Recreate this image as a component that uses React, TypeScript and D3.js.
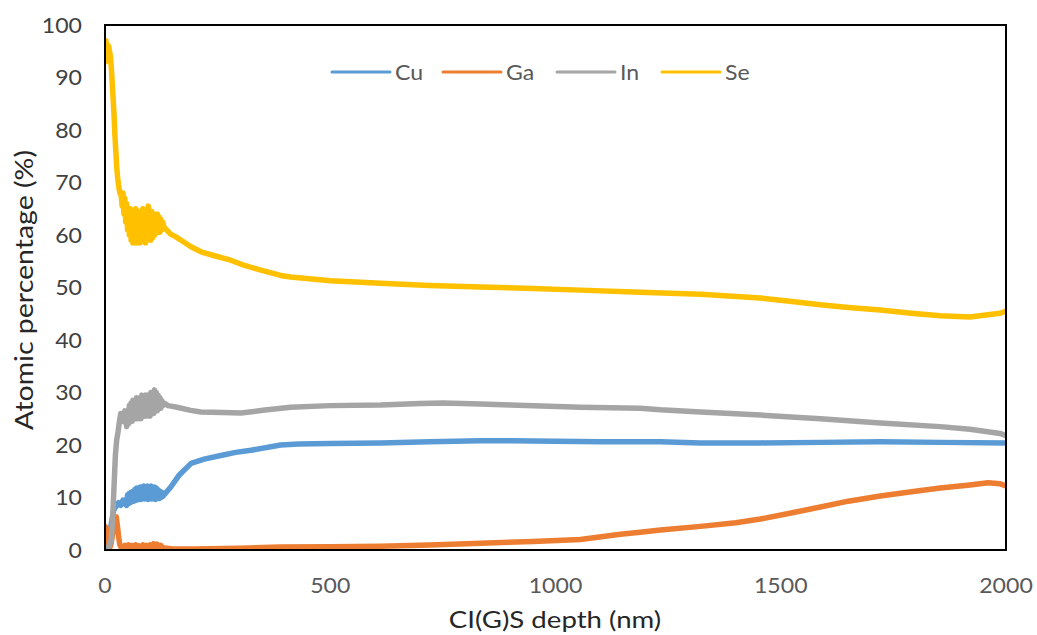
import React from 'react';
import * as d3 from 'd3';

type Pt = [number, number];

const seriesNames = ['Cu', 'Ga', 'In', 'Se'];
const seriesColors = ['#5B9BD5', '#ED7D31', '#A5A5A5', '#FFC000'];
const xTicks = [0, 500, 1000, 1500, 2000];
const yTicks = [0, 10, 20, 30, 40, 50, 60, 70, 80, 90, 100];

const cuData: Pt[] = [
  [0, 0.5], [2, 3], [4, 4], [6, 2.5], [8, 2], [10, 3], [13, 4.5], [16, 6], [19, 7.5], [22, 8], [26, 8.5], [30, 9], [35, 8.5], [40, 9.5], [44, 8.8],
  [48, 8.5], [50, 10.5], [52, 8.8], [54, 10.8], [56, 9], [58, 11], [60, 9.2], [62, 11.2], [64, 9.3], [66, 11.5], [68, 9.5], [70, 11.8], [72, 9.5], [74, 11.5], [76, 9.8], [78, 12], [80, 9.6], [82, 11.8], [84, 9.8], [86, 12.2], [88, 9.7], [90, 12], [92, 9.8], [94, 12.2], [96, 9.6], [98, 12], [100, 9.8], [102, 12.2], [104, 9.7], [106, 11.8], [108, 9.8], [110, 12], [112, 9.6], [114, 11.8], [116, 9.8], [118, 11.5], [120, 9.8], [122, 11.2], [124, 10], [126, 11], [128, 10.2], [131, 10.5],
  [146, 12], [165, 14.3], [191, 16.5], [220, 17.3], [257, 18], [290, 18.6], [324, 19], [390, 20], [430, 20.2], [500, 20.3], [612, 20.4], [720, 20.6], [834, 20.8], [900, 20.8], [1000, 20.7], [1100, 20.6], [1233, 20.6], [1322, 20.4], [1455, 20.4], [1588, 20.5], [1721, 20.6], [1854, 20.5], [2000, 20.4],
];

const gaData: Pt[] = [
  [0, 1], [1, 4.5], [3, 3], [5, 4], [7, 2], [9, 1], [11, 0.5], [13, 1], [16, 2.5], [19, 4], [22, 5.5], [25, 6.3], [27, 5], [29, 3.5], [31, 2], [33, 1], [36, 0.5], [40, 0.3],
  [44, 0.9], [48, 0.2], [52, 1], [56, 0.3], [60, 0.9], [64, 0.2], [68, 1], [72, 0.3], [76, 0.8], [80, 0.2], [84, 1], [88, 0.3], [92, 0.9], [96, 0.2], [100, 1], [104, 0.3], [108, 1.2], [112, 0.3], [116, 1.1], [120, 0.3], [124, 0.9], [128, 0.2], [132, 0.4],
  [150, 0.2], [200, 0.2], [300, 0.35], [390, 0.55], [500, 0.6], [612, 0.7], [720, 0.95], [834, 1.3], [950, 1.6], [1055, 2.0], [1144, 3.0], [1188, 3.4], [1233, 3.8], [1322, 4.5], [1400, 5.2], [1455, 5.9], [1520, 7], [1588, 8.2], [1650, 9.3], [1721, 10.3], [1790, 11.1], [1854, 11.8], [1920, 12.4], [1960, 12.8], [1987, 12.6], [2000, 12.2],
];

const inData: Pt[] = [
  [0, 0.5], [5, 0.3], [10, 0.8], [14, 2], [17, 6], [20, 12], [23, 18], [26, 21], [29, 22.5], [32, 24.5], [35, 26], [40, 24.5], [44, 26.5],
  [48, 23.5], [50, 26.5], [52, 24], [54, 27.5], [56, 24.5], [58, 28], [60, 24.5], [62, 28.5], [64, 25], [66, 28.5], [68, 25], [70, 29], [72, 25], [74, 28.5], [76, 25.5], [78, 29], [80, 25], [82, 29.5], [84, 25.5], [86, 29], [88, 25.5], [90, 29.5], [92, 25.5], [94, 29.5], [96, 26], [98, 29.5], [100, 25.5], [102, 30], [104, 26], [106, 29.5], [108, 26], [110, 30.5], [112, 26.5], [114, 30], [116, 26.5], [118, 29.5], [120, 27], [122, 29], [124, 27], [126, 28.5], [128, 27.5], [131, 28],
  [140, 27.5], [160, 27.2], [190, 26.6], [213, 26.3], [260, 26.2], [302, 26.1], [350, 26.6], [412, 27.2], [500, 27.5], [612, 27.6], [700, 27.9], [750, 28], [834, 27.8], [900, 27.6], [1055, 27.2], [1188, 27], [1233, 26.7], [1322, 26.3], [1455, 25.7], [1588, 25], [1721, 24.2], [1854, 23.5], [1920, 23], [1987, 22.2], [2000, 21.8],
];

const seData: Pt[] = [
  [0, 96], [1, 93], [2, 97], [3, 93.5], [4, 96.5], [6, 94], [8, 96], [10, 95], [12, 94], [14, 92], [16, 89], [18, 86], [20, 83], [22, 79], [24, 76], [26, 73], [28, 71], [30, 69.5], [33, 68], [36, 67.5], [38, 65.5],
  [40, 68], [42, 64], [44, 67], [46, 62.5], [48, 66], [50, 61], [52, 65], [54, 60], [56, 65], [58, 59], [60, 64.5], [62, 58.5], [64, 63.5], [66, 59], [68, 65], [70, 58.5], [72, 64], [74, 59.5], [76, 64.5], [78, 58.5], [80, 63.5], [82, 59], [84, 65], [86, 59.5], [88, 64], [90, 58.5], [92, 64.5], [94, 59], [96, 65.5], [98, 59.5], [100, 64], [102, 59], [104, 64.5], [106, 59.5], [108, 64], [110, 60], [112, 63.5], [114, 60.5], [116, 64], [118, 60.5], [120, 63.5], [122, 60.5], [124, 63], [126, 61], [128, 62.5],
  [131, 61.5], [145, 60.2], [160, 59.5], [169, 59], [190, 57.8], [213, 56.8], [245, 56], [279, 55.2], [310, 54.2], [346, 53.3], [390, 52.3], [412, 52], [500, 51.3], [612, 50.8], [720, 50.4], [834, 50.1], [950, 49.8], [1055, 49.5], [1188, 49.1], [1322, 48.7], [1455, 48], [1520, 47.4], [1588, 46.7], [1650, 46.2], [1721, 45.7], [1790, 45.1], [1854, 44.6], [1920, 44.4], [1960, 44.8], [1987, 45.1], [2000, 45.5],
];

const allSeries: Pt[][] = [cuData, gaData, inData, seData];

const W = 1037;
const H = 635;
const M = { left: 105, right: 1006, top: 25, bottom: 550 };
const FONT = 'Lato, "Open Sans", sans-serif';

function StretchText(props: { x: number; y: number; sx: number; rotate?: number; anchor: string; size: number; fill: string; dy?: string; children: React.ReactNode }) {
  const { x, y, sx, rotate = 0, anchor, size, fill, dy, children } = props;
  return (
    <g transform={`translate(${x},${y}) rotate(${rotate}) scale(${sx},1)`}>
      <text x={0} y={0} dy={dy} textAnchor={anchor} fontSize={size} fill={fill}>{children}</text>
    </g>
  );
}

export default function App() {
  const x = d3.scaleLinear().domain([0, 2000]).range([M.left, M.right]);
  const y = d3.scaleLinear().domain([0, 100]).range([M.bottom, M.top]);
  const line = d3.line<Pt>().x((d) => x(d[0])).y((d) => y(d[1]));

  const legendX = [332, 443, 557, 662];

  return (
    <svg width={W} height={H} style={{ position: 'absolute', left: 0, top: 0, background: '#fff' }} fontFamily={FONT}>
      <defs>
        <clipPath id="plotClip">
          <rect x={M.left} y={M.top - 2} width={M.right - M.left} height={M.bottom - M.top + 2} />
        </clipPath>
      </defs>
      <rect x={0} y={0} width={W} height={H} fill="#fff" />
      <g clipPath="url(#plotClip)">
        {allSeries.map((s, i) => (
          <path key={i} d={line(s) || ''} fill="none" stroke={seriesColors[i]} strokeWidth={5.5} strokeLinejoin="round" strokeLinecap="round" />
        ))}
      </g>
      <rect x={M.left} y={M.top} width={M.right - M.left} height={M.bottom - M.top} fill="none" stroke="#000" strokeWidth={2} />
      {yTicks.map((t) => (
        <StretchText key={t} x={82} y={y(t)} dy="0.36em" sx={1.05} anchor="end" size={22} fill="#404040">{t}</StretchText>
      ))}
      {xTicks.map((t) => (
        <StretchText key={t} x={x(t)} y={593} sx={1.05} anchor="middle" size={22} fill="#595959">{t}</StretchText>
      ))}
      <StretchText x={555} y={628} sx={1.15} anchor="middle" size={24} fill="#262626">CI(G)S depth (nm)</StretchText>
      <StretchText x={33} y={290} rotate={-90} sx={1.14} anchor="middle" size={25} fill="#262626">Atomic percentage (%)</StretchText>
      {seriesNames.map((n, i) => (
        <g key={n}>
          <line x1={legendX[i]} x2={legendX[i] + 58} y1={72} y2={72} stroke={seriesColors[i]} strokeWidth={3} strokeLinecap="round" />
          <StretchText x={legendX[i] + 63} y={72} dy="0.36em" sx={1.05} anchor="start" size={22} fill="#595959">{n}</StretchText>
        </g>
      ))}
    </svg>
  );
}
